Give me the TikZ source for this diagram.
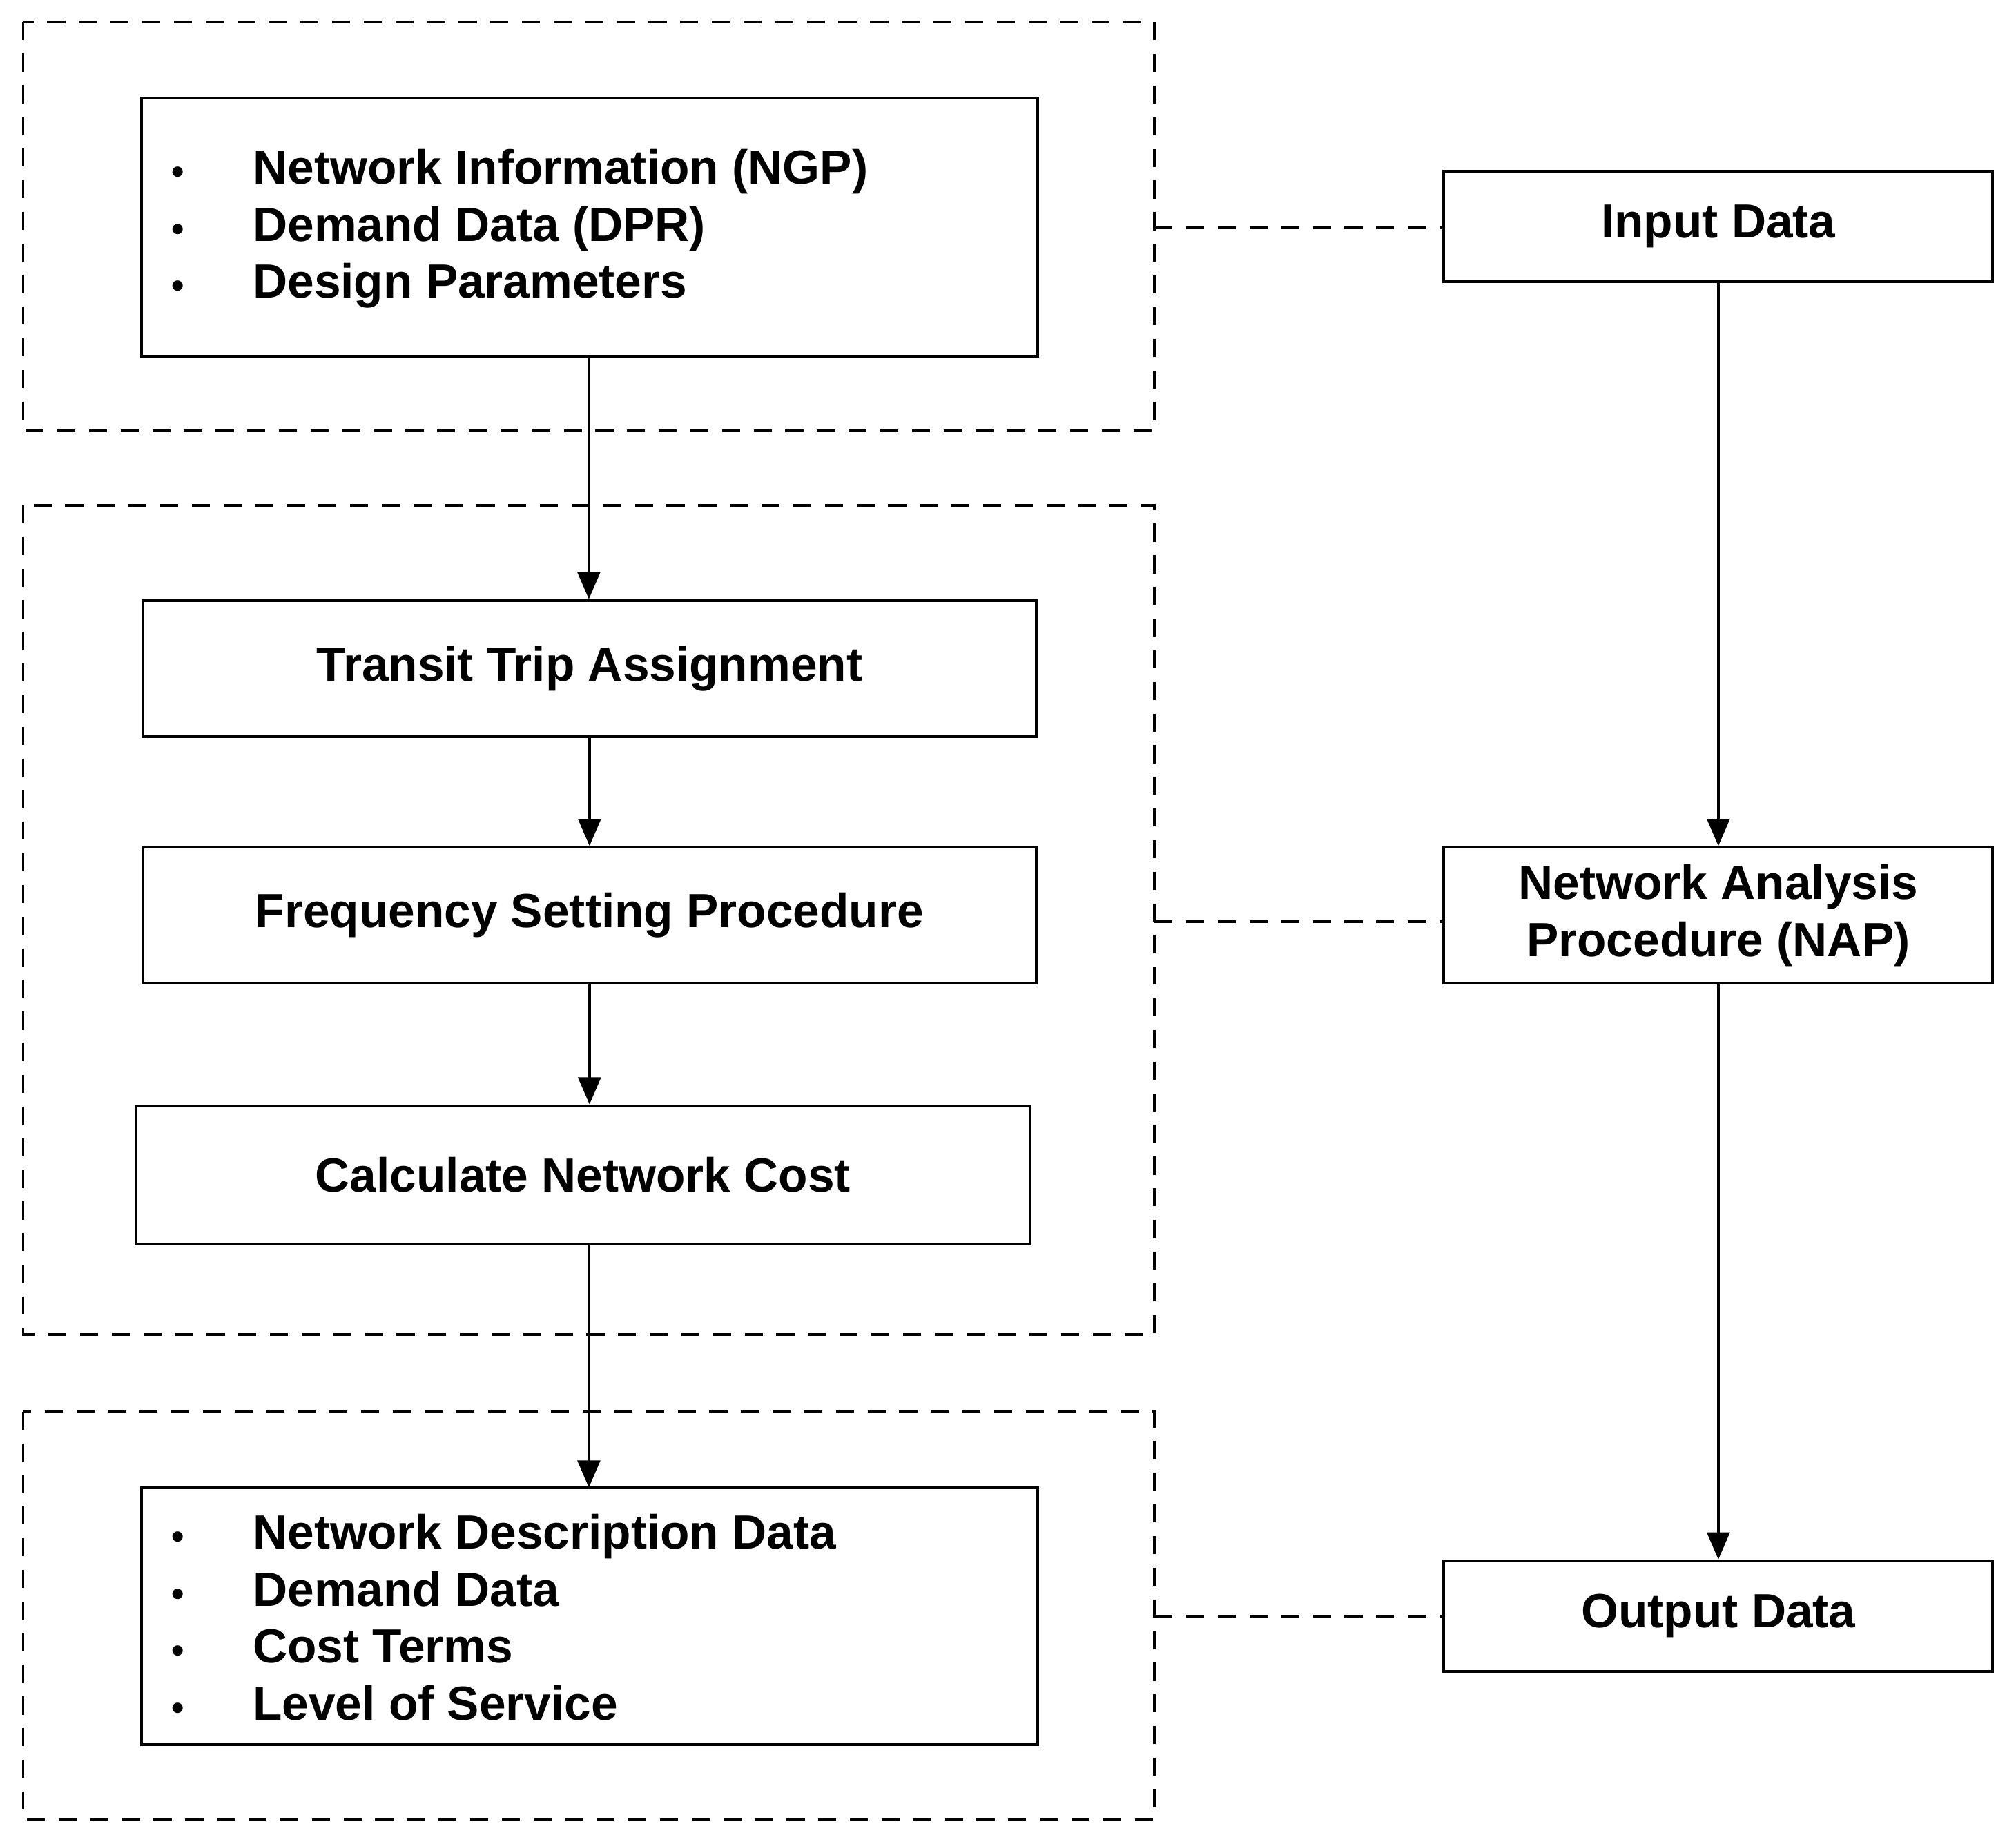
\documentclass[tikz,border=0pt]{standalone}
\usepackage{fontspec}
\setmainfont{Liberation Sans}
\usetikzlibrary{arrows.meta}
\begin{document}
\begin{tikzpicture}[x=0.01cm,y=-0.01cm,
  box/.style={draw,line width=0.6pt,inner sep=0pt},
  grp/.style={draw,line width=0.6pt,dash pattern=on 4pt off 3pt},
  lbl/.style={font=\fontsize{10.6}{12.6}\selectfont\bfseries,align=center},
  arr/.style={-{Triangle[length=6pt,width=5pt]},line width=0.6pt},
  dl/.style={line width=0.6pt,dash pattern=on 4pt off 3pt}]
\useasboundingbox (0,0) rectangle (1568,1434);
\draw[grp] (18,17) rectangle (898,335);
\draw[grp] (18,393) rectangle (898,1038);
\draw[grp] (18,1098) rectangle (898,1415);
\coordinate (d1) at (898,177);
\coordinate (d2) at (898,717);
\coordinate (d3) at (898,1257);
\draw[line width=0.6pt] (110,76) rectangle (807,277);
\coordinate (atop) at (458,277);
\node[lbl,anchor=west,align=left] (alist) at (121,178) {%
\makebox[18pt][l]{\footnotesize •}Network Information (NGP)\\
\makebox[18pt][l]{\footnotesize •}Demand Data (DPR)\\
\makebox[18pt][l]{\footnotesize •}Design Parameters};
\node[box,minimum width=697*0.01cm-0.6pt,minimum height=108*0.01cm-0.6pt,lbl] (t) at (458.5,520) {Transit Trip Assignment};
\node[box,minimum width=697*0.01cm-0.6pt,minimum height=108*0.01cm-0.6pt,lbl] (f) at (458.5,712) {Frequency Setting Procedure};
\node[box,minimum width=697*0.01cm-0.6pt,minimum height=110*0.01cm-0.6pt,lbl] (c) at (453.5,914) {Calculate Network Cost};
\draw[line width=0.6pt] (110,1157) rectangle (807,1357);
\coordinate (otop) at (458,1157);
\node[lbl,anchor=west,align=left] (olist) at (121,1258) {%
\makebox[18pt][l]{\footnotesize •}Network Description Data\\
\makebox[18pt][l]{\footnotesize •}Demand Data\\
\makebox[18pt][l]{\footnotesize •}Cost Terms\\
\makebox[18pt][l]{\footnotesize •}Level of Service};
\node[box,minimum width=429*0.01cm-0.6pt,minimum height=88*0.01cm-0.6pt,lbl] (in) at (1336.5,176) {Input Data};
\node[box,minimum width=429*0.01cm-0.6pt,minimum height=108*0.01cm-0.6pt,lbl] (nap) at (1336.5,712) {Network Analysis\\Procedure (NAP)};
\node[box,minimum width=429*0.01cm-0.6pt,minimum height=88*0.01cm-0.6pt,lbl] (out) at (1336.5,1257) {Output Data};
\draw[arr] (atop) -- (t.north -| atop);
\draw[arr] (t) -- (f);
\draw[arr] (f.south) -- (f.south |- c.north);
\draw[arr] (c.south -| otop) -- (otop);
\draw[arr] (in) -- (nap);
\draw[arr] (nap) -- (out);
\draw[dl] (d1) -- (d1 -| in.west);
\draw[dl] (d2) -- (d2 -| nap.west);
\draw[dl] (d3) -- (d3 -| out.west);
\end{tikzpicture}
\end{document}
